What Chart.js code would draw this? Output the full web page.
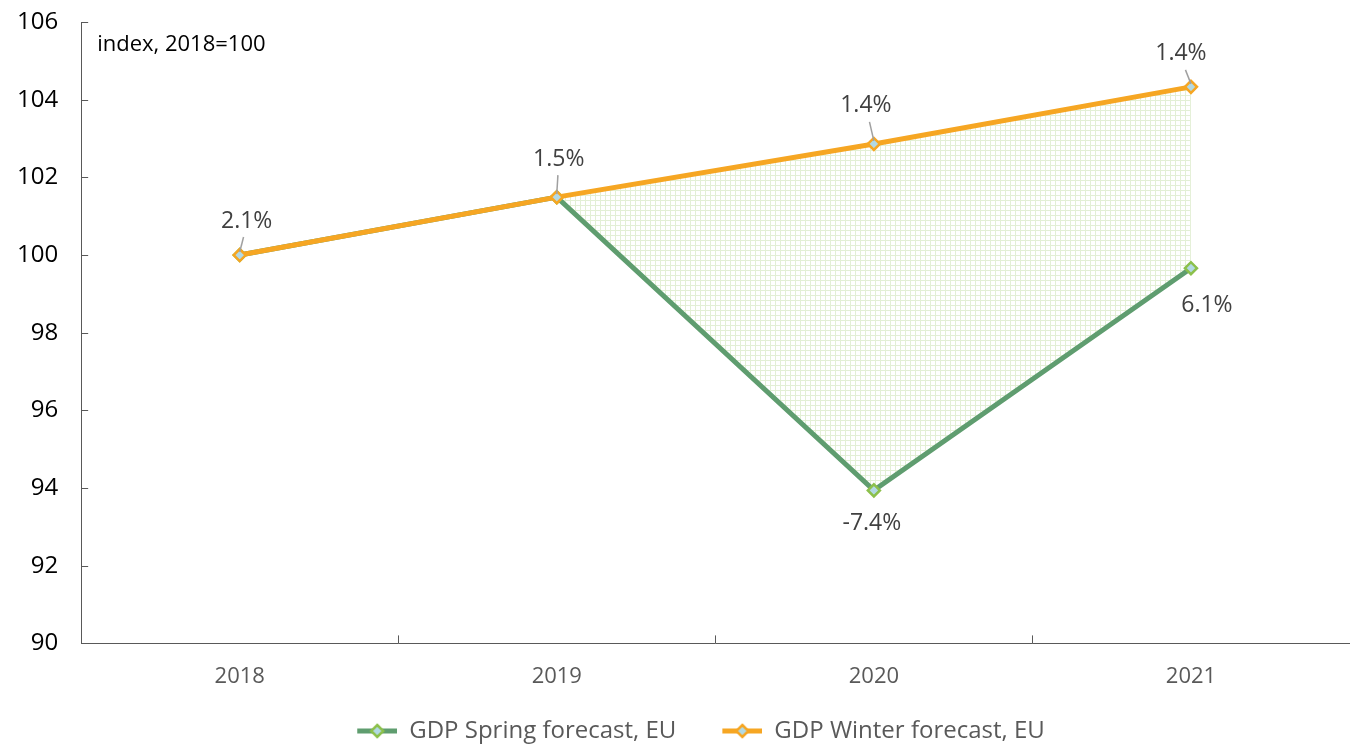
<!DOCTYPE html>
<html>
<head>
<meta charset="utf-8">
<script src="https://cdn.jsdelivr.net/npm/chart.js@4.4.1/dist/chart.umd.min.js"></script>
<style>
  html, body { margin: 0; padding: 0; background: #ffffff; }
  #wrap { width: 1358px; height: 744px; position: relative; }
</style>
</head>
<body>
<div id="wrap"><canvas id="gdpChart"></canvas></div>
<script>
const years = ['2018', '2019', '2020', '2021'];
const springForecast = [100, 101.49, 93.94, 99.66];
const winterForecast = [100, 101.49, 102.86, 104.33];
const springLabels = ['', '', '-7.4%', '6.1%'];
const winterLabels = ['2.1%', '1.5%', '1.4%', '1.4%'];
const yTicks = [90, 92, 94, 96, 98, 100, 102, 104, 106];

const GREEN_LINE = '#5f9d6f';
const GREEN_MARK = '#8cc04b';
const ORANGE = '#f6a623';
const MARK_FILL = '#b2d9e4';
const FONT = "'Open Sans', 'DejaVu Sans', sans-serif";

// light green grid hatch between the two forecasts
function makeHatch() {
    const c = document.createElement('canvas');
    c.width = 5; c.height = 5;
    const g = c.getContext('2d');
    g.fillStyle = '#ffffff';
    g.fillRect(0, 0, 5, 5);
    g.fillStyle = '#e3efd5';
    g.fillRect(0, 0, 5, 1);
    g.fillRect(0, 0, 1, 5);
    return g.createPattern(c, 'repeat');
}

// legend symbol: short line with diamond marker (left part is blank spacing)
function legendIcon(lineColor, markColor) {
    const c = document.createElement('canvas');
    c.width = 86; c.height = 16;
    const g = c.getContext('2d');
    g.strokeStyle = lineColor;
    g.lineWidth = 5;
    g.beginPath(); g.moveTo(46, 8); g.lineTo(86, 8); g.stroke();
    g.fillStyle = MARK_FILL;
    g.strokeStyle = markColor;
    g.lineWidth = 2.5;
    g.beginPath();
    g.moveTo(66, 2); g.lineTo(72, 8); g.lineTo(66, 14); g.lineTo(60, 8); g.closePath();
    g.fill(); g.stroke();
    return c;
}

// inward tick marks, unit note and data labels with leader lines
const decorPlugin = {
    id: 'decor',
    afterDatasetsDraw(chart) {
        const ctx = chart.ctx;
        const x = chart.scales.x;
        const y = chart.scales.y;
        const area = chart.chartArea;
        ctx.save();
        ctx.strokeStyle = '#595959';
        ctx.lineWidth = 1;
        // y ticks pointing right
        yTicks.forEach(v => {
            const py = Math.round(y.getPixelForValue(v)) + 0.5;
            ctx.beginPath(); ctx.moveTo(area.left, py); ctx.lineTo(area.left + 7, py); ctx.stroke();
        });
        // x ticks between categories pointing up
        for (let i = 0; i < years.length - 1; i++) {
            const px = Math.round((x.getPixelForValue(i) + x.getPixelForValue(i + 1)) / 2) + 0.5;
            ctx.beginPath(); ctx.moveTo(px, area.bottom); ctx.lineTo(px, area.bottom - 8); ctx.stroke();
        }

        ctx.fillStyle = '#000000';
        ctx.font = '22px ' + FONT;
        ctx.textAlign = 'left';
        ctx.textBaseline = 'middle';
        ctx.fillText('index, 2018=100', area.left + 16, 45);

        ctx.font = '23px ' + FONT;
        ctx.textAlign = 'center';
        ctx.fillStyle = '#404040';
        const winterOff = [[7, -34], [2, -38], [-8, -38], [-10, -33]];
        const winterMeta = chart.getDatasetMeta(1);
        winterLabels.forEach((t, i) => {
            if (!t) return;
            const p = winterMeta.data[i];
            const lx = p.x + winterOff[i][0];
            const ly = p.y + winterOff[i][1];
            ctx.fillText(t, lx, ly);
            ctx.strokeStyle = '#a0a0a0';
            ctx.lineWidth = 1.5;
            ctx.beginPath();
            ctx.moveTo(p.x + winterOff[i][0] * 0.55, ly + 16);
            ctx.lineTo(p.x, p.y - 3);
            ctx.stroke();
        });
        const springOff = [[0, 0], [0, 0], [-2, 33], [16, 37]];
        const springMeta = chart.getDatasetMeta(0);
        springLabels.forEach((t, i) => {
            if (!t) return;
            const p = springMeta.data[i];
            ctx.fillText(t, p.x + springOff[i][0], p.y + springOff[i][1]);
        });
        ctx.restore();
    }
};

const ctx = document.getElementById('gdpChart').getContext('2d');
new Chart(ctx, {
    type: 'line',
    data: {
        labels: years,
        datasets: [
            {
                label: 'GDP Spring forecast, EU',
                data: springForecast,
                borderColor: GREEN_LINE,
                borderWidth: 5,
                pointStyle: 'rectRot',
                pointRadius: 6,
                pointBorderWidth: 2.5,
                pointBackgroundColor: MARK_FILL,
                pointBorderColor: GREEN_MARK,
                fill: { target: 1 },
                backgroundColor: makeHatch(),
                tension: 0,
                order: 1
            },
            {
                label: 'GDP Winter forecast, EU',
                data: winterForecast,
                borderColor: ORANGE,
                borderWidth: 5,
                pointStyle: 'rectRot',
                pointRadius: 6,
                pointBorderWidth: 2.5,
                pointBackgroundColor: MARK_FILL,
                pointBorderColor: ORANGE,
                fill: false,
                tension: 0,
                order: 0
            }
        ]
    },
    options: {
        responsive: true,
        maintainAspectRatio: false,
        animation: false,
        layout: { padding: { top: 22, right: -4, left: -6, bottom: -9 } },
        plugins: {
            legend: {
                position: 'bottom',
                // empty title only adds a gap above the legend items
                title: { display: true, text: '', font: { size: 1 }, padding: { top: 0, bottom: 8 } },
                labels: {
                    color: '#595959',
                    font: { family: FONT, size: 24 },
                    usePointStyle: true,
                    pointStyleWidth: 86,
                    boxHeight: 16,
                    padding: 0,
                    generateLabels(chart) {
                        return [
                            { text: 'GDP Spring forecast, EU', pointStyle: legendIcon(GREEN_LINE, GREEN_MARK), fontColor: '#595959', datasetIndex: 0, lineWidth: 0, strokeStyle: 'transparent', fillStyle: 'transparent' },
                            { text: 'GDP Winter forecast, EU', pointStyle: legendIcon(ORANGE, ORANGE), fontColor: '#595959', datasetIndex: 1, lineWidth: 0, strokeStyle: 'transparent', fillStyle: 'transparent' }
                        ];
                    }
                }
            },
            tooltip: { enabled: false }
        },
        scales: {
            x: {
                offset: true,
                afterFit(scale) {
                    scale.paddingLeft = 0;
                    scale.paddingRight = 0;
                },
                grid: { display: false, offset: true, drawTicks: false },
                border: { display: true, color: '#595959', width: 1 },
                ticks: { color: '#595959', font: { family: FONT, size: 22 }, padding: 20 }
            },
            y: {
                min: 90,
                max: 106,
                afterBuildTicks(scale) {
                    scale.ticks = yTicks.map(v => ({ value: v }));
                },
                afterFit(scale) {
                    scale.paddingTop = 0;
                    scale.paddingBottom = 0;
                },
                grid: { display: false, drawTicks: false },
                border: { display: true, color: '#595959', width: 1 },
                ticks: { color: '#000000', font: { family: FONT, size: 24 }, padding: 23 }
            }
        }
    },
    plugins: [decorPlugin]
});
</script>
</body>
</html>
